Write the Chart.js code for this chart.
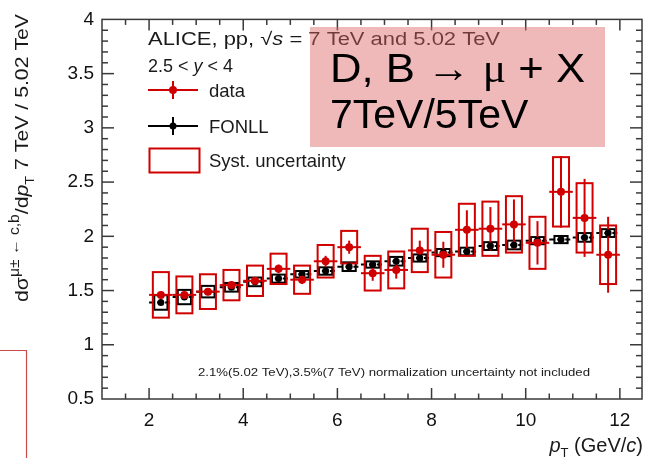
<!DOCTYPE html>
<html>
<head>
<meta charset="utf-8">
<script src="https://cdn.jsdelivr.net/npm/chart.js@4/dist/chart.umd.min.js"></script>
<style>
  html, body { margin: 0; padding: 0; background: #fff; }
  #wrap { width: 654px; height: 458px; }
</style>
</head>
<body>
<div id="wrap"><canvas id="ratio" width="654" height="458"></canvas></div>
<script>
// pT bins (GeV/c), 0.5 wide
const binCenters = [2.25, 2.75, 3.25, 3.75, 4.25, 4.75, 5.25, 5.75, 6.25, 6.75,
                    7.25, 7.75, 8.25, 8.75, 9.25, 9.75, 10.25, 10.75, 11.25, 11.75];

// 7 TeV / 5.02 TeV ratio, measured
const ratioData = [1.46, 1.46, 1.49, 1.55, 1.59, 1.70, 1.60, 1.77, 1.90, 1.66,
                   1.69, 1.87, 1.83, 2.06, 2.07, 2.11, 1.94, 2.41, 2.17, 1.83];
const statErr   = [0.03, 0.03, 0.03, 0.03, 0.03, 0.04, 0.04, 0.05, 0.06, 0.07,
                   0.08, 0.09, 0.12, 0.18, 0.20, 0.23, 0.20, 0.33, 0.36, 0.35];
const systErr   = [0.21, 0.17, 0.16, 0.14, 0.14, 0.14, 0.13, 0.15, 0.15, 0.16,
                   0.17, 0.20, 0.21, 0.24, 0.25, 0.26, 0.24, 0.32, 0.32, 0.27];

// FONLL prediction
const fonll     = [1.39, 1.44, 1.49, 1.53, 1.58, 1.61, 1.65, 1.68, 1.72, 1.74,
                   1.77, 1.80, 1.85, 1.86, 1.91, 1.92, 1.96, 1.97, 1.99, 2.03];
const fonllErr  = [0.067, 0.066, 0.053, 0.040, 0.040, 0.037, 0.030, 0.034, 0.040, 0.029,
                   0.040, 0.033, 0.033, 0.035, 0.036, 0.040, 0.033, 0.033, 0.040, 0.036];

const xTickLabels = [2, 4, 6, 8, 10, 12];
const yTickLabels = [0.5, 1, 1.5, 2, 2.5, 3, 3.5, 4];

const RED = '#d10000';
const FRAME = '#3a3a3a';
const TEXT = '#1a1a1a';
const SANS = '"Liberation Sans", Arial, sans-serif';
const font = (size, style = '') => `${style} ${size}px ${SANS}`;

const BIN_HALF = 0.25;
const BOX_HALF = 0.17;
const FONLL_BOX_HALF = 0.14;

function line(ctx, x1, y1, x2, y2) {
    ctx.beginPath();
    ctx.moveTo(x1, y1);
    ctx.lineTo(x2, y2);
    ctx.stroke();
}

function box(ctx, xs, ys, cx, halfW, lo, hi) {
    const l = xs.getPixelForValue(cx - halfW), r = xs.getPixelForValue(cx + halfW);
    const t = ys.getPixelForValue(hi), b = ys.getPixelForValue(lo);
    ctx.strokeRect(l, t, r - l, b - t);
}

// text made of runs [text, font, baseline shift]; if width is given the
// whole line is stretched horizontally to that width
function drawRuns(ctx, runs, x, y, opts = {}) {
    let total = 0;
    runs.forEach(r => { ctx.font = r[1]; total += ctx.measureText(r[0]).width; });
    const sx = opts.width ? opts.width / total : 1;
    ctx.save();
    ctx.translate(opts.align === 'right' ? x - total * sx : x, y);
    ctx.scale(sx, 1);
    let cx = 0;
    runs.forEach(r => {
        ctx.font = r[1];
        ctx.fillText(r[0], cx, r[2] || 0);
        cx += ctx.measureText(r[0]).width;
    });
    ctx.restore();
}

const errorBars = {
    id: 'errorBars',
    beforeDatasetsDraw(chart) {
        const { ctx, scales: { x, y } } = chart;
        ctx.save();
        ctx.lineWidth = 2;

        // FONLL: dashed central value + uncertainty boxes
        ctx.strokeStyle = '#000';
        binCenters.forEach((c, i) => {
            const py = y.getPixelForValue(fonll[i]);
            ctx.setLineDash([5, 3]);
            line(ctx, x.getPixelForValue(c - BIN_HALF), py, x.getPixelForValue(c + BIN_HALF), py);
            ctx.setLineDash([]);
            box(ctx, x, y, c, FONLL_BOX_HALF, fonll[i] - fonllErr[i], fonll[i] + fonllErr[i]);
        });

        // data: syst boxes + stat bars
        ctx.strokeStyle = RED;
        binCenters.forEach((c, i) => {
            const v = ratioData[i];
            const px = x.getPixelForValue(c), py = y.getPixelForValue(v);
            box(ctx, x, y, c, BOX_HALF, v - systErr[i], v + systErr[i]);
            line(ctx, x.getPixelForValue(c - BIN_HALF), py, x.getPixelForValue(c + BIN_HALF), py);
            line(ctx, px, y.getPixelForValue(v - statErr[i]), px, y.getPixelForValue(v + statErr[i]));
        });
        ctx.restore();
    }
};

// ROOT-like frame with inward ticks on all four sides
const frame = {
    id: 'frame',
    afterDatasetsDraw(chart) {
        const { ctx, chartArea: a, scales: { x, y } } = chart;
        ctx.save();
        ctx.strokeStyle = FRAME;
        ctx.lineWidth = 1.5;
        ctx.strokeRect(a.left, a.top, a.right - a.left, a.bottom - a.top);

        for (let v = 1.5; v < 12.5; v += 0.5) {
            const len = xTickLabels.includes(v) ? 11 : 5.5;
            const px = x.getPixelForValue(v);
            line(ctx, px, a.bottom, px, a.bottom - len);
            line(ctx, px, a.top, px, a.top + len);
        }
        for (let k = 6; k < 40; k++) {
            const len = k % 5 === 0 ? 12 : 6;
            const py = y.getPixelForValue(k / 10);
            line(ctx, a.left, py, a.left + len, py);
            line(ctx, a.right, py, a.right - len, py);
        }
        ctx.restore();
    }
};

const annotations = {
    id: 'annotations',
    afterDraw(chart) {
        const { ctx } = chart;
        ctx.save();
        ctx.textBaseline = 'alphabetic';
        ctx.fillStyle = TEXT;

        // legend block
        drawRuns(ctx, [['ALICE, pp, ', font(18)], ['\u221A', font(18)], ['s', font(18, 'italic')],
                       [' = 7 TeV and 5.02 TeV', font(18)]], 148, 45, { width: 352 });
        drawRuns(ctx, [['2.5 < ', font(18)], ['y', font(18, 'italic')], [' < 4', font(18)]], 148, 72);

        ctx.lineWidth = 2;
        [[RED, 90, 4, 'data'], ['#000', 126, 3.5, 'FONLL']].forEach(([col, ly, r, label]) => {
            ctx.strokeStyle = col;
            ctx.fillStyle = col;
            line(ctx, 148, ly, 198, ly);
            line(ctx, 173, ly - 9, 173, ly + 9);
            ctx.beginPath();
            ctx.arc(173, ly, r, 0, Math.PI * 2);
            ctx.fill();
            ctx.fillStyle = TEXT;
            ctx.font = font(18.5);
            ctx.fillText(label, 209, ly + 7);
        });
        ctx.strokeStyle = RED;
        ctx.strokeRect(149.5, 148.5, 50, 24);
        ctx.fillStyle = TEXT;
        ctx.font = font(18.5);
        ctx.fillText('Syst. uncertainty', 209, 167);

        // normalisation note
        drawRuns(ctx, [['2.1%(5.02 TeV),3.5%(7 TeV) normalization uncertainty not included', font(11)]],
                 198, 376, { width: 392 });

        // axis titles
        drawRuns(ctx, [['p', font(20, 'italic')], ['T', font(13), 5], [' (GeV/', font(20)],
                       ['c', font(20, 'italic')], [')', font(20)]], 643, 452, { align: 'right' });

        ctx.save();
        ctx.translate(28, 302);
        ctx.rotate(-Math.PI / 2);
        drawRuns(ctx, [['d\u03C3', font(19)], ['\u03BC\u00B1 \u2190 c,b', font(14), -9], ['/d', font(19)],
                       ['p', font(19, 'italic')], ['T', font(13), 6], [' 7 TeV / 5.02 TeV', font(19)]],
                 0, 0, { width: 288 });
        ctx.restore();

        // highlighted caption box
        ctx.fillStyle = 'rgba(222, 100, 100, 0.45)';
        ctx.fillRect(310, 27, 295, 120);
        ctx.fillStyle = '#000';
        drawRuns(ctx, [['D, B \u2192 ', font(41)], ['\u03BC', '41px "Liberation Serif", serif'], [' + X', font(41)]],
                 330, 82, { width: 255 });
        ctx.font = font(41);
        ctx.fillText('7TeV/5TeV', 330, 128);

        // stray outline in the lower-left corner
        ctx.strokeStyle = '#c84a4a';
        ctx.lineWidth = 1.2;
        ctx.beginPath();
        ctx.moveTo(0, 350.5);
        ctx.lineTo(26.5, 350.5);
        ctx.lineTo(26.5, 458);
        ctx.stroke();
        ctx.restore();
    }
};

new Chart(document.getElementById('ratio'), {
    type: 'scatter',
    data: {
        datasets: [
            {
                label: 'data',
                data: binCenters.map((c, i) => ({ x: c, y: ratioData[i] })),
                pointRadius: 4,
                pointBackgroundColor: RED,
                pointBorderColor: RED,
                pointBorderWidth: 0,
                order: 0
            },
            {
                label: 'FONLL',
                data: binCenters.map((c, i) => ({ x: c, y: fonll[i] })),
                pointRadius: 3.5,
                pointBackgroundColor: '#000',
                pointBorderColor: '#000',
                pointBorderWidth: 0,
                order: 1
            }
        ]
    },
    options: {
        responsive: false,
        animation: false,
        events: [],
        layout: { padding: { top: 11, right: 12, left: 0, bottom: 0 } },
        plugins: { legend: { display: false }, tooltip: { enabled: false } },
        scales: {
            x: {
                type: 'linear',
                min: 1,
                max: 12.47,
                grid: { display: false, drawTicks: false },
                border: { display: false },
                ticks: { font: { family: SANS, size: 19 }, color: '#111', padding: 10, callback: v => String(v) },
                afterBuildTicks: s => { s.ticks = xTickLabels.map(v => ({ value: v })); },
                afterFit: s => { s.height = 59; }
            },
            y: {
                type: 'linear',
                min: 0.5,
                max: 4,
                grid: { display: false, drawTicks: false },
                border: { display: false },
                ticks: { font: { family: SANS, size: 19 }, color: '#111', padding: 8, callback: v => String(v) },
                afterBuildTicks: s => { s.ticks = yTickLabels.map(v => ({ value: v })); },
                afterFit: s => { s.width = 102; }
            }
        }
    },
    plugins: [errorBars, frame, annotations]
});
</script>
</body>
</html>
